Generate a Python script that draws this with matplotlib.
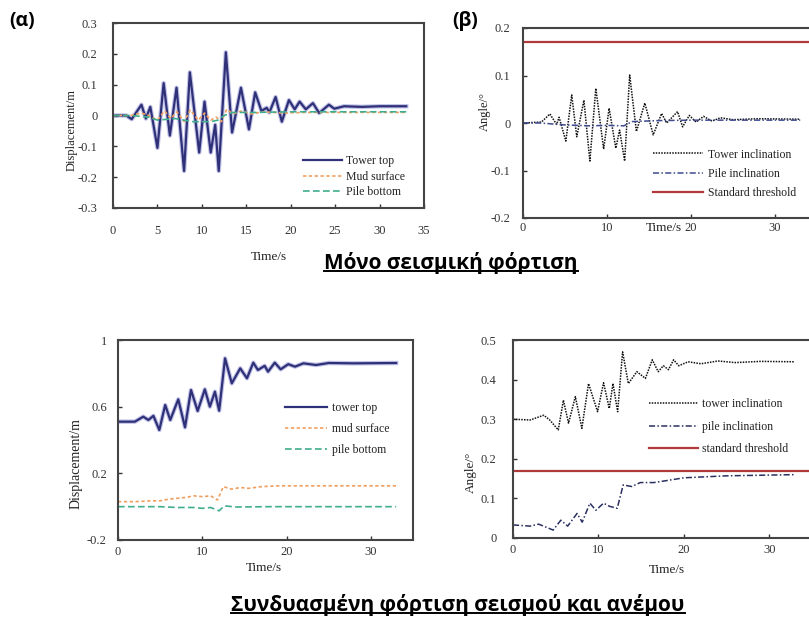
import numpy as np
import matplotlib.pyplot as plt

# ---- data (time in s) ----
# (a) seismic only, displacement
tt_a = [0, 1.5, 2.1, 3.2, 3.7, 4.2, 5.0, 5.7, 6.4, 7.15, 8.0, 8.65, 9.7, 10.3, 11.0, 11.5, 11.9,
        12.7, 13.4, 14.4, 15.3, 16.0, 16.7, 17.3, 17.6, 18.3, 19.0, 19.8, 20.45, 21.0, 21.7,
        22.5, 23.2, 24.3, 24.9, 26.0, 28.0, 30.0, 33.0]
tower_top = [0, 0, -0.012, 0.035, -0.01, 0.028, -0.105, 0.105, -0.065, 0.09, -0.18, 0.14, -0.12,
             0.045, -0.12, -0.03, -0.18, 0.205, -0.055, 0.09, -0.045, 0.075, 0.015, 0.025, 0.01,
             0.06, -0.02, 0.05, 0.02, 0.045, 0.02, 0.04, 0.008, 0.035, 0.022, 0.03, 0.028, 0.03, 0.03]
mud_t = [0, 2, 3.2, 4, 5, 5.8, 6.5, 7.2, 8, 8.7, 9.6, 10.3, 11, 11.6, 12.2, 12.8, 13.5, 14.5,
         15.5, 17, 19, 22, 26, 33]
mud_surface = [0, 0, 0.008, 0, -0.015, 0.015, -0.01, 0.012, -0.02, 0.018, -0.015, 0.008, -0.015,
               -0.005, -0.02, 0.02, 0.005, 0.015, 0.005, 0.012, 0.008, 0.01, 0.01, 0.01]
pile_t = [0, 2, 4, 5, 7, 9, 11, 11.8, 12.5, 13.5, 16, 20, 33]
pile_bottom = [0, 0, -0.005, -0.015, -0.01, -0.02, -0.02, -0.015, 0.0, 0.01, 0.01, 0.012, 0.012]

# (b) seismic only, inclination
tt_b = [0, 2.2, 3.2, 4.0, 4.3, 5.1, 5.8, 6.4, 7.25, 7.96, 8.67, 9.6, 10.25, 11.05, 11.5, 12.1,
        12.7, 13.5, 14.5, 15.5, 16.5, 17.1, 18.4, 19.0, 19.8, 20.6, 21.5, 22.5, 23.5, 25, 28, 33]
tower_incl = [0, 0.002, 0.019, -0.003, 0.012, -0.038, 0.059, -0.029, 0.048, -0.08, 0.073, -0.055,
              0.031, -0.053, -0.015, -0.08, 0.101, -0.018, 0.042, -0.025, 0.02, 0.0, 0.024,
              -0.008, 0.016, 0.002, 0.014, 0.004, 0.011, 0.007, 0.009, 0.008]
pile_incl_t = [0, 2, 5, 8, 10, 12, 13, 16, 20, 33]
pile_incl = [0, 0, -0.004, -0.006, -0.005, -0.006, 0.003, 0.005, 0.006, 0.006]
threshold = 0.17

# (c) seismic + wind, displacement
tt_c = [0, 2.0, 3.0, 3.6, 4.2, 4.9, 5.6, 6.2, 7.15, 7.95, 8.66, 9.45, 10.3, 10.9, 11.5, 12.0,
        12.7, 13.5, 14.5, 15.3, 16.05, 16.6, 17.4, 17.8, 18.6, 19.3, 20.2, 21.0, 22.0, 23.5,
        25, 28, 33]
tower_top_w = [0.51, 0.51, 0.54, 0.52, 0.545, 0.46, 0.61, 0.52, 0.644, 0.476, 0.70, 0.574, 0.704,
               0.60, 0.69, 0.576, 0.89, 0.74, 0.83, 0.77, 0.864, 0.82, 0.845, 0.81, 0.864,
               0.824, 0.855, 0.84, 0.86, 0.85, 0.862, 0.86, 0.862]
mud_w_t = [0, 2, 4, 5, 6, 7, 8, 9, 10, 11, 11.8, 12.5, 13.5, 14.5, 15.5, 17, 19, 22, 33]
mud_surface_w = [0.03, 0.03, 0.035, 0.035, 0.045, 0.05, 0.055, 0.065, 0.06, 0.065, 0.04, 0.12,
                 0.105, 0.115, 0.11, 0.12, 0.125, 0.125, 0.125]
pile_w_t = [0, 3, 5, 7, 9, 10, 11, 12, 12.6, 14, 18, 33]
pile_bottom_w = [0.0, 0.0, 0.0, -0.005, -0.005, -0.01, -0.005, -0.025, 0.005, -0.002, 0.0, 0.0]

# (d) seismic + wind, inclination
tt_d = [0, 2.0, 3.6, 4.3, 5.3, 5.9, 6.5, 7.3, 8.06, 8.84, 9.9, 10.6, 11.27, 11.7, 12.25, 12.83,
        13.5, 14.5, 15.5, 16.3, 17.0, 17.6, 18.2, 18.8, 19.4, 20.5, 22, 24, 26, 29, 33]
tower_incl_w = [0.3, 0.298, 0.31, 0.298, 0.273, 0.348, 0.29, 0.357, 0.277, 0.39, 0.319, 0.392,
                0.327, 0.39, 0.319, 0.47, 0.39, 0.42, 0.403, 0.45, 0.42, 0.435, 0.425, 0.45,
                0.435, 0.445, 0.44, 0.447, 0.443, 0.446, 0.445]
pile_incl_w_t = [0, 2, 3.0, 3.8, 4.7, 5.6, 6.4, 7.5, 8.1, 9.0, 9.7, 10.6, 11.3, 12.2, 12.9, 13.9,
                 14.9, 16.5, 18.0, 20, 25, 33]
pile_incl_w = [0.033, 0.03, 0.035, 0.028, 0.02, 0.045, 0.03, 0.062, 0.04, 0.088, 0.07, 0.088,
               0.08, 0.075, 0.134, 0.13, 0.14, 0.14, 0.145, 0.152, 0.157, 0.16]

NAVY = '#2f3178'
ORANGE = '#f0a060'
GREEN = '#3fae8e'
RED = '#b03a3a'
SERIF = 'Liberation Serif'

W, H = 809, 628
fig = plt.figure(figsize=(W / 100, H / 100), dpi=100)


def box(l, t, r, b):
    return [l / W, 1 - b / H, (r - l) / W, (b - t) / H]


def style(ax, xticks, yticks, ylabels, xpad, ypad):
    ax.set_xticks(xticks)
    ax.set_xticklabels([str(x) for x in xticks])
    ax.set_yticks(yticks)
    ax.set_yticklabels(ylabels)
    ax.tick_params(direction='in', length=3, width=1, colors='#333333', labelsize=9,
                   top=False, right=False)
    ax.tick_params(axis='x', pad=xpad)
    ax.tick_params(axis='y', pad=ypad)
    for lab in ax.get_xticklabels() + ax.get_yticklabels():
        lab.set_family(SERIF)
    for s in ax.spines.values():
        s.set_linewidth(1.5)
        s.set_color('#444444')


def leg(ax, anchor, spacing, hl):
    lg = ax.legend(loc='upper left', bbox_to_anchor=anchor, frameon=False, handlelength=hl,
                   handletextpad=0.4, labelspacing=spacing, borderaxespad=0,
                   prop={'family': SERIF, 'size': 8.5})
    for tx in lg.get_texts():
        tx.set_color('#222222')


def labels(ax, xy_x, xy_y, size=9.5):
    ax.set_xlabel('Time/s', family=SERIF, fontsize=size, color='#222222')
    ax.xaxis.set_label_coords(*xy_x)
    ax.yaxis.set_label_coords(*xy_y)


# (a)
ax1 = fig.add_axes(box(113, 23, 424, 208))
ax1.plot(tt_a, tower_top, color='#9a9ad8', lw=3.2, alpha=0.6)
ax1.plot(tt_a, tower_top, color=NAVY, lw=1.6, label='Tower top')
ax1.plot(mud_t, mud_surface, color=ORANGE, lw=1.2, ls=(0, (2, 1.5)), label='Mud surface')
ax1.plot(pile_t, pile_bottom, color=GREEN, lw=1.2, ls=(0, (4, 2)), label='Pile bottom')
ax1.set_xlim(0, 35)
ax1.set_ylim(-0.3, 0.3)
style(ax1, [0, 5, 10, 15, 20, 25, 30, 35], [-0.3, -0.2, -0.1, 0, 0.1, 0.2, 0.3],
      ['-0.3', '-0.2', '-0.1', '0', '0.1', '0.2', '0.3'], 12, 11)
ax1.set_ylabel('Displacement/m', family=SERIF, fontsize=9, color='#222222')
labels(ax1, (0.5, -0.23), (-0.115, 0.42))
leg(ax1, (0.595, 0.31), 0.3, 3.3)

# (b)
ax2 = fig.add_axes(box(523, 28, 817, 218))
ax2.plot(tt_b, tower_incl, color='#111111', lw=1.1, ls=(0, (1, 0.8)), label='Tower inclination')
ax2.plot(pile_incl_t, pile_incl, color='#3e4a8e', lw=1.1, ls=(0, (4, 1.5, 1, 1.5)),
         label='Pile inclination')
ax2.axhline(threshold, color=RED, lw=1.6, label='Standard threshold')
ax2.set_xlim(0, 35)
ax2.set_ylim(-0.2, 0.2)
style(ax2, [0, 10, 20, 30], [-0.2, -0.1, 0, 0.1, 0.2], ['-0.2', '-0.1', '0', '0.1', '0.2'], 3, 9)
ax2.set_ylabel('Angle/°', family=SERIF, fontsize=9, color='#222222')
labels(ax2, (0.48, -0.02), (-0.11, 0.56))
leg(ax2, (0.425, 0.39), 0.6, 4.3)

# (c)
ax3 = fig.add_axes(box(118, 340, 413, 540))
ax3.plot(tt_c, tower_top_w, color='#9a9ad8', lw=3.2, alpha=0.6)
ax3.plot(tt_c, tower_top_w, color=NAVY, lw=1.6, label='tower top')
ax3.plot(mud_w_t, mud_surface_w, color=ORANGE, lw=1.2, ls=(0, (2, 1.5)), label='mud surface')
ax3.plot(pile_w_t, pile_bottom_w, color=GREEN, lw=1.2, ls=(0, (4, 2)), label='pile bottom')
ax3.set_xlim(0, 35)
ax3.set_ylim(-0.2, 1.0)
style(ax3, [0, 10, 20, 30], [-0.2, 0.2, 0.6, 1.0], ['-0.2', '0.2', '0.6', '1'], 4, 8)
ax3.set_ylabel('Displacement/m', family=SERIF, fontsize=10, color='#222222')
labels(ax3, (0.495, -0.11), (-0.12, 0.38))
leg(ax3, (0.55, 0.715), 0.78, 3.6)

# (d)
ax4 = fig.add_axes(box(513, 340, 812, 538))
ax4.plot(tt_d, tower_incl_w, color='#111111', lw=1.1, ls=(0, (1, 0.8)), label='tower inclination')
ax4.plot(pile_incl_w_t, pile_incl_w, color='#2a3060', lw=1.1, ls=(0, (4, 1.5, 1, 1.5)),
         label='pile inclination')
ax4.axhline(threshold, color=RED, lw=1.6, label='standard threshold')
ax4.set_xlim(0, 35)
ax4.set_ylim(0, 0.5)
style(ax4, [0, 10, 20, 30], [0, 0.1, 0.2, 0.3, 0.4, 0.5], ['0', '0.1', '0.2', '0.3', '0.4', '0.5'],
      4, 12)
ax4.set_ylabel('Angle/°', family=SERIF, fontsize=9.5, color='#222222')
labels(ax4, (0.515, -0.13), (-0.12, 0.33))
leg(ax4, (0.44, 0.73), 0.9, 4.1)

# panel letters and section titles
GF = ['Open Sans', 'DejaVu Sans']
fig.text(9 / W, 1 - 21 / H, '(α)', family=GF, fontsize=14, fontweight='bold', va='center')
fig.text(452 / W, 1 - 21 / H, '(β)', family=GF, fontsize=14, fontweight='bold', va='center')
t1 = fig.text(451 / W, 1 - 263 / H, 'Μόνο σεισμική φόρτιση', family=GF, fontsize=15,
              fontweight='bold', ha='center', va='center')
t2 = fig.text(458 / W, 1 - 605 / H, 'Συνδυασμένη φόρτιση σεισμού και ανέμου', family=GF,
              fontsize=15, fontweight='bold', ha='center', va='center')

fig.canvas.draw()
rend = fig.canvas.get_renderer()
for t in (t1, t2):
    bb = t.get_window_extent(rend).transformed(fig.transFigure.inverted())
    fig.add_artist(plt.Line2D([bb.x0, bb.x1], [bb.y0 + 0.004, bb.y0 + 0.004], color='black',
                              lw=1.4, transform=fig.transFigure))

fig.savefig('out.png', dpi=100)
